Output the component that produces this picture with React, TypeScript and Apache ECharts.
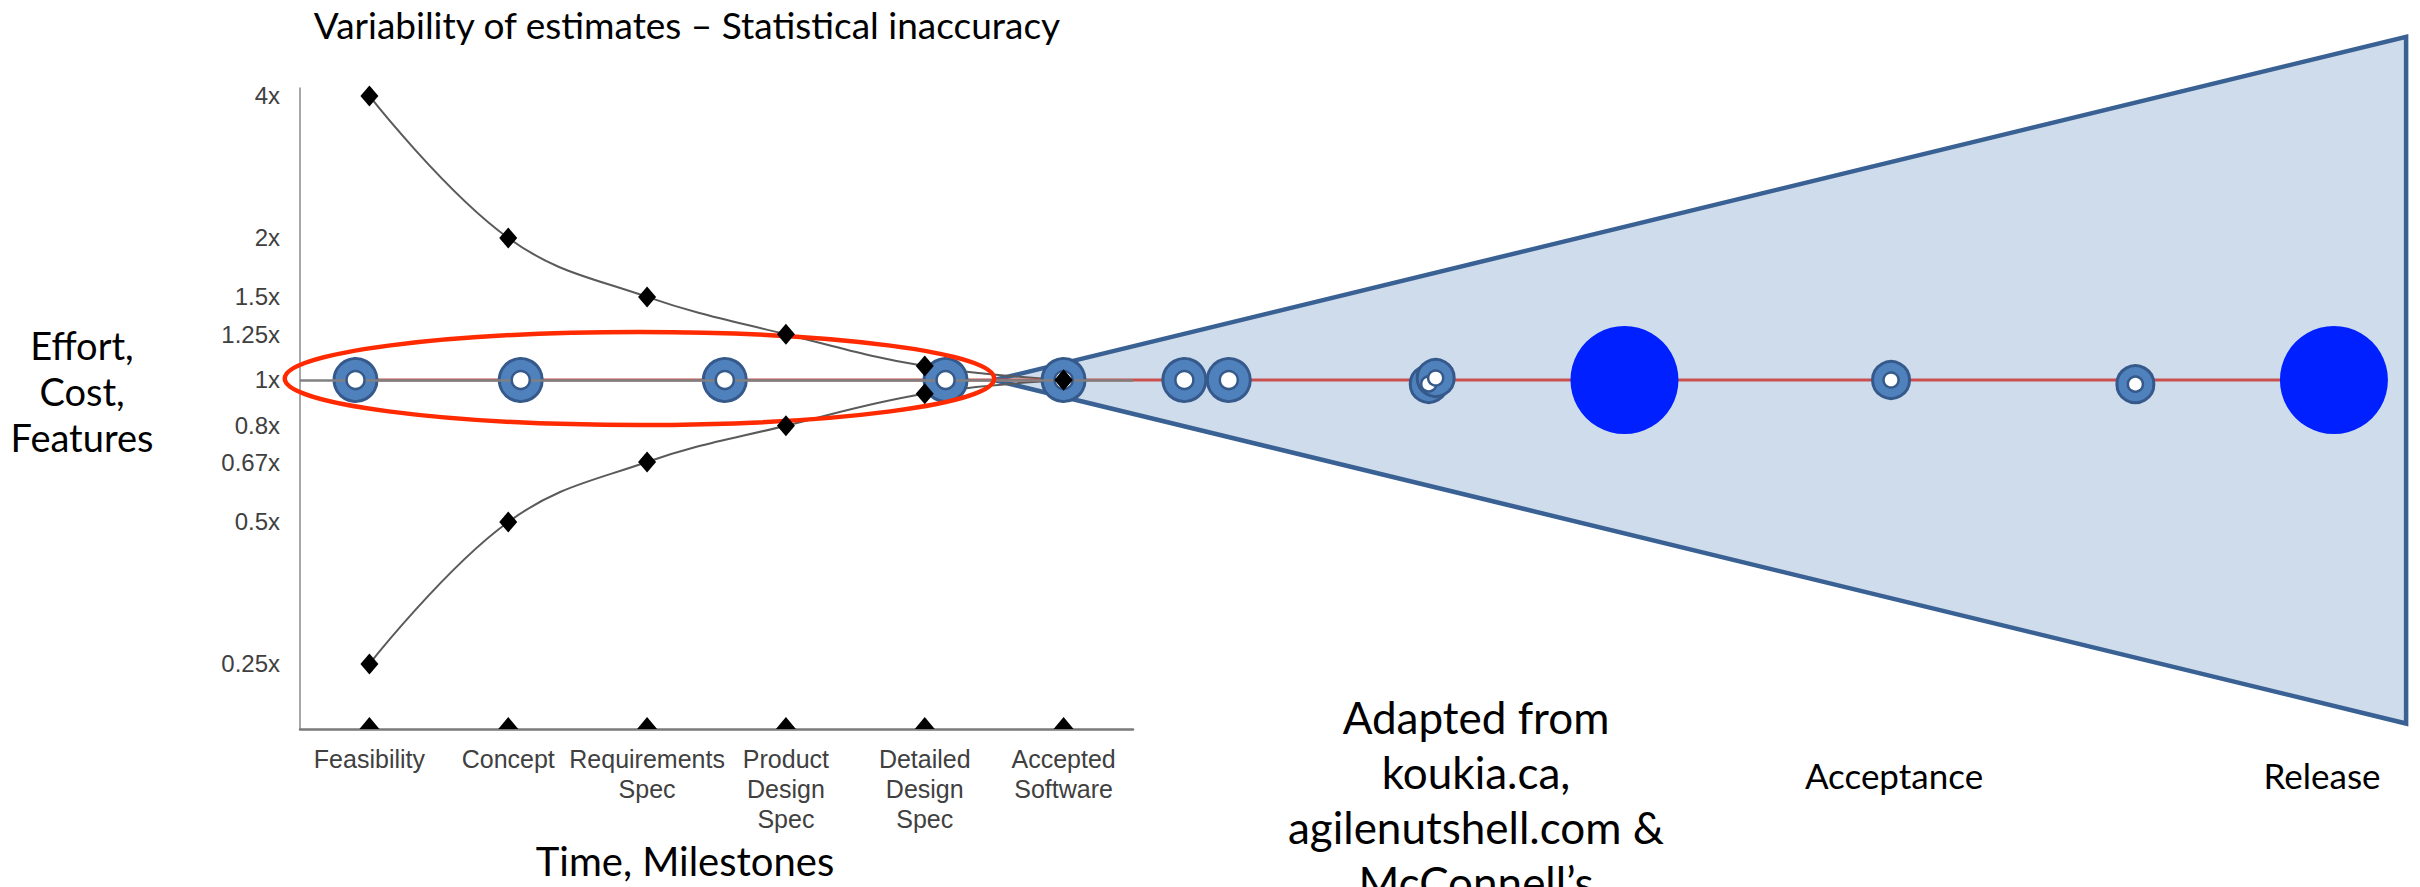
import React, { useEffect, useRef } from 'react';
import * as echarts from 'echarts';

// ---------- data ----------
const milestones = [
  'Feasibility',
  'Concept',
  'Requirements\nSpec',
  'Product\nDesign\nSpec',
  'Detailed\nDesign\nSpec',
  'Accepted\nSoftware',
];
const upperEstimate = [4, 2, 1.5, 1.25, 1.07, 1];
const lowerEstimate = [0.25, 0.5, 0.67, 0.8, 0.935, 1];
const yTickValues = [0.25, 0.5, 0.67, 0.8, 1, 1.25, 1.5, 2, 4];
const yTickLabels = ['0.25x', '0.5x', '0.67x', '0.8x', '1x', '1.25x', '1.5x', '2x', '4x'];

// timeline position (in milestone units, Feasibility = 0) and estimate multiplier
const iterationRings: [number, number][] = [
  [-0.1, 1], [1.09, 1], [2.56, 1], [4.15, 1], [5.0, 1], [5.87, 1], [6.19, 1],
  [7.63, 0.981], [7.68, 1.01], [10.96, 1], [12.72, 0.98],
];
const releaseMarkers: [number, number][] = [[9.04, 1], [14.15, 1]];
const coneOutline: [number, number][] = [[4.5, 1], [14.67, 5.34], [14.67, 0.187]];
const focusBand = { from: -0.61, to: 4.5, low: 0.803, high: 1.264 };

const Y_MIN = -2.458;
const Y_MAX = 2.056;
const lg = (v: number) => Math.log2(v);

function tickLabel(v: number): string {
  let best = 0;
  let bd = Infinity;
  yTickValues.forEach((t, i) => {
    const d = Math.abs(lg(t) - v);
    if (d < bd) { bd = d; best = i; }
  });
  return yTickLabels[best];
}

function buildOption(): any {
  const ringsData = iterationRings.map(([t, m]) => [t, lg(m)]);
  const lineStart = iterationRings[0][0];
  const lineEnd = releaseMarkers[releaseMarkers.length - 1][0];
  return {
    animation: false,
    backgroundColor: '#ffffff',
    grid: [
      { left: 300, right: 1287, top: 88, bottom: 158 },
      { left: 300, right: 0, top: 0, bottom: 0 },
    ],
    xAxis: [
      {
        type: 'category',
        gridIndex: 0,
        data: milestones,
        boundaryGap: true,
        axisLine: { onZero: false, lineStyle: { color: '#7a7a7a', width: 2.5 } },
        axisTick: { show: false },
        axisLabel: {
          interval: 0,
          margin: 15,
          color: '#404040',
          fontFamily: 'Liberation Sans',
          fontSize: 25,
          lineHeight: 30,
        },
        splitLine: { show: false },
      },
      {
        type: 'value',
        gridIndex: 1,
        min: -0.5,
        max: 14.77,
        show: false,
      },
    ],
    yAxis: [
      {
        type: 'value',
        gridIndex: 0,
        min: Y_MIN,
        max: Y_MAX,
        axisLine: { show: true, onZero: false, lineStyle: { color: '#8a8a8a', width: 1.5 } },
        axisTick: { show: false },
        splitLine: { show: false },
        axisLabel: {
          customValues: yTickValues.map(lg),
          formatter: (v: number) => tickLabel(v),
          margin: 20,
          color: '#404040',
          fontFamily: 'Liberation Sans',
          fontSize: 24,
        },
      },
      {
        type: 'value',
        gridIndex: 1,
        min: -3.57,
        max: 2.676,
        show: false,
      },
    ],
    series: [
      {
        type: 'custom',
        name: 'cone',
        xAxisIndex: 1,
        yAxisIndex: 1,
        z: 1,
        silent: true,
        data: coneOutline.map(([t, m]) => [t, lg(m)]),
        renderItem: (params: any, api: any) => {
          if (params.dataIndex !== 0) return null;
          return {
            type: 'polygon',
            shape: { points: coneOutline.map(([t, m]) => api.coord([t, lg(m)])) },
            style: { fill: '#cfdcec', stroke: '#3a6193', lineWidth: 4.5, lineJoin: 'miter' },
          };
        },
      },
      {
        type: 'line',
        name: 'upper',
        xAxisIndex: 0,
        yAxisIndex: 0,
        z: 2,
        smooth: 0.4,
        symbol: 'none',
        data: upperEstimate.map(lg),
        lineStyle: { color: '#5a5a5a', width: 2 },
        markLine: {
          silent: true,
          symbol: 'none',
          label: { show: false },
          lineStyle: { color: '#808080', width: 2.5, type: 'solid' },
          data: [{ yAxis: 0 }],
        },
      },
      {
        type: 'line',
        name: 'lower',
        xAxisIndex: 0,
        yAxisIndex: 0,
        z: 2,
        smooth: 0.4,
        symbol: 'none',
        data: lowerEstimate.map(lg),
        lineStyle: { color: '#5a5a5a', width: 2 },
      },
      {
        type: 'line',
        name: 'timeline',
        xAxisIndex: 1,
        yAxisIndex: 1,
        z: 3,
        symbol: 'none',
        data: [[lineStart, 0], [lineEnd, 0]],
        lineStyle: { color: '#c9504d', width: 3 },
      },
      {
        type: 'scatter',
        name: 'rings',
        xAxisIndex: 1,
        yAxisIndex: 1,
        z: 4,
        symbol: 'circle',
        symbolSize: (v: number[]) => (v[0] > 7 ? 37 : 43),
        data: ringsData,
        itemStyle: { color: '#4f81bd', borderColor: '#35598a', borderWidth: 3, opacity: 1 },
      },
      {
        type: 'scatter',
        name: 'ringHoles',
        xAxisIndex: 1,
        yAxisIndex: 1,
        z: 5,
        symbol: 'circle',
        symbolSize: (v: number[]) => (v[0] > 7 ? 15 : 18),
        data: ringsData,
        itemStyle: { color: '#ffffff', borderColor: '#35598a', borderWidth: 2.5, opacity: 1 },
      },
      {
        type: 'scatter',
        name: 'release',
        xAxisIndex: 1,
        yAxisIndex: 1,
        z: 5,
        symbol: 'circle',
        symbolSize: 108,
        data: releaseMarkers.map(([t, m]) => [t, lg(m)]),
        itemStyle: { color: '#0020ff', opacity: 1 },
      },
      {
        type: 'custom',
        name: 'focus',
        xAxisIndex: 1,
        yAxisIndex: 1,
        z: 6,
        silent: true,
        data: [[focusBand.from, lg(focusBand.high)], [focusBand.to, lg(focusBand.low)]],
        renderItem: (params: any, api: any) => {
          if (params.dataIndex !== 0) return null;
          const p0 = api.coord([focusBand.from, lg(focusBand.high)]);
          const p1 = api.coord([focusBand.to, lg(focusBand.low)]);
          return {
            type: 'ellipse',
            shape: {
              cx: (p0[0] + p1[0]) / 2,
              cy: (p0[1] + p1[1]) / 2,
              rx: Math.abs(p1[0] - p0[0]) / 2,
              ry: Math.abs(p1[1] - p0[1]) / 2,
            },
            style: { fill: 'none', stroke: '#ff2a00', lineWidth: 4.5 },
          };
        },
      },
      {
        type: 'scatter',
        name: 'upperPoints',
        xAxisIndex: 0,
        yAxisIndex: 0,
        z: 7,
        symbol: 'diamond',
        symbolSize: [18, 21],
        data: upperEstimate.map(lg),
        itemStyle: { color: '#000000', opacity: 1 },
      },
      {
        type: 'scatter',
        name: 'lowerPoints',
        xAxisIndex: 0,
        yAxisIndex: 0,
        z: 7,
        symbol: 'diamond',
        symbolSize: [18, 21],
        data: lowerEstimate.map(lg),
        itemStyle: { color: '#000000', opacity: 1 },
      },
      {
        type: 'scatter',
        name: 'milestoneTicks',
        xAxisIndex: 0,
        yAxisIndex: 0,
        z: 7,
        symbol: 'triangle',
        symbolSize: [20, 12],
        symbolOffset: [0, -6],
        data: milestones.map(() => Y_MIN),
        itemStyle: { color: '#000000', opacity: 1 },
      },
    ],
    graphic: [
      {
        type: 'text', x: 687, y: 24, z: 10,
        style: {
          text: 'Variability of estimates – Statistical inaccuracy',
          fontFamily: 'Lato', fontSize: 37, fill: '#000',
          align: 'center', verticalAlign: 'middle',
        },
      },
      {
        type: 'text', x: 685, y: 861, z: 10,
        style: {
          text: 'Time, Milestones',
          fontFamily: 'Lato', fontSize: 40, fill: '#000',
          align: 'center', verticalAlign: 'middle',
        },
      },
      {
        type: 'text', x: 82, y: 391, z: 10,
        style: {
          text: 'Effort,\nCost,\nFeatures',
          fontFamily: 'Lato', fontSize: 38, lineHeight: 46, fill: '#000',
          align: 'center', verticalAlign: 'middle',
        },
      },
      {
        type: 'text', x: 1476, y: 799, z: 10,
        style: {
          text: 'Adapted from\nkoukia.ca,\nagilenutshell.com &\nMcConnell’s',
          fontFamily: 'Lato', fontSize: 44, lineHeight: 55, fill: '#000',
          align: 'center', verticalAlign: 'middle',
        },
      },
      {
        type: 'text', x: 1894, y: 775, z: 10,
        style: {
          text: 'Acceptance',
          fontFamily: 'Lato', fontSize: 35, fill: '#000',
          align: 'center', verticalAlign: 'middle',
        },
      },
      {
        type: 'text', x: 2322, y: 775, z: 10,
        style: {
          text: 'Release',
          fontFamily: 'Lato', fontSize: 35, fill: '#000',
          align: 'center', verticalAlign: 'middle',
        },
      },
    ],
  };
}

export default function App() {
  const ref = useRef<HTMLDivElement>(null);
  useEffect(() => {
    if (!ref.current) return;
    const chart = echarts.init(ref.current, null, { renderer: 'svg' });
    chart.setOption(buildOption());
    return () => chart.dispose();
  }, []);
  return (
    <div
      ref={ref}
      style={{ position: 'absolute', left: 0, top: 0, width: 2420, height: 887, background: '#ffffff' }}
    />
  );
}
